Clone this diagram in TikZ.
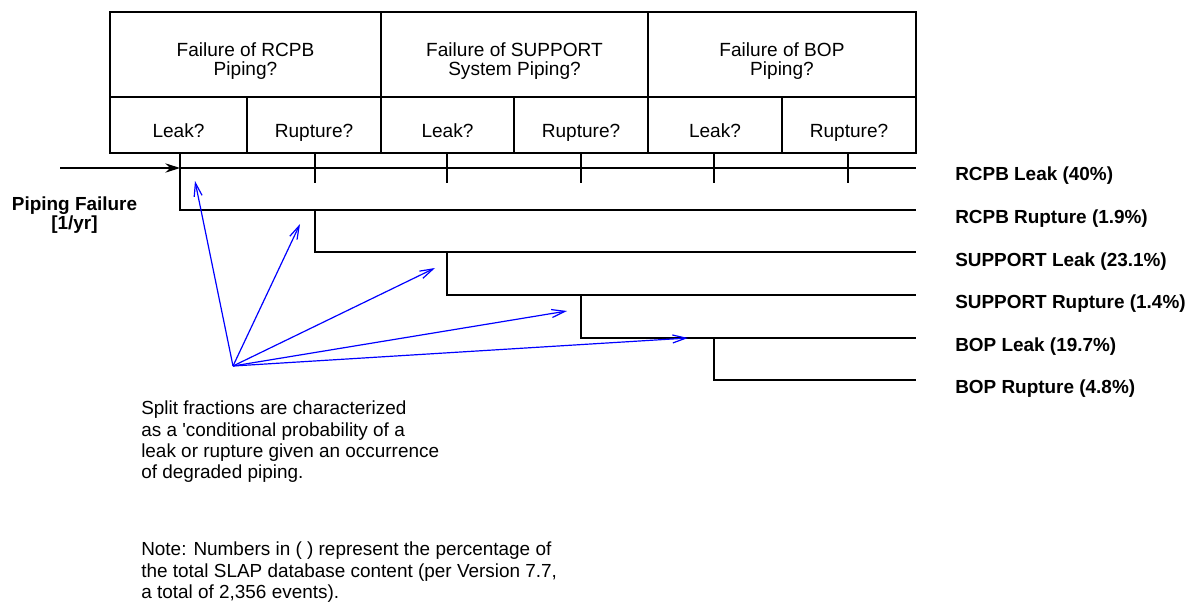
\documentclass[tikz,border=0pt]{standalone}
\usepackage{fontspec}
\setmainfont{Liberation Sans}
\usetikzlibrary{arrows.meta}

\begin{document}
\begin{tikzpicture}[x=0.75pt,y=-0.75pt,
  hd/.style={align=center,inner sep=0pt,font=\fontsize{14.3}{14.3}\selectfont},
  sub/.style={anchor=base,inner sep=0pt,font=\fontsize{14.3}{14.3}\selectfont},
  outlbl/.style={anchor=base west,inner sep=0pt,font=\fontsize{14.2}{16}\selectfont\bfseries},
  txt/.style={anchor=north west,align=left,inner sep=0pt,font=\fontsize{14.2}{16}\selectfont},
  blu/.style={draw,blue,line width=0.9pt,-{Straight Barb[length=10pt,width=6pt]}}]
\useasboundingbox (0,0) rectangle (1194,604);
% header boxes
\path[draw,line width=1.9pt] (110,12) rectangle (916,153);
\path[draw,line width=1.9pt] (110,97) -- (916,97);
\foreach \x in {381,648} \path[draw,line width=1.9pt] (\x,12) -- (\x,153);
\foreach \x in {247,514,782} \path[draw,line width=1.9pt] (\x,97) -- (\x,153);
\node[hd] (q1) at (245.5,61) {Failure of RCPB\\Piping?};
\node[hd] (q2) at (514.5,61) {Failure of SUPPORT\\System Piping?};
\node[hd] (q3) at (782,61) {Failure of BOP\\Piping?};
\node[sub] (l1) at (178.5,137) {Leak?};
\node[sub] (r1) at (314,137) {Rupture?};
\node[sub] (l2) at (447.5,137) {Leak?};
\node[sub] (r2) at (581,137) {Rupture?};
\node[sub] (l3) at (715,137) {Leak?};
\node[sub] (r3) at (849,137) {Rupture?};
% event tree
\foreach \x in {180,315,447,581,714,848} \path[draw,line width=0.9pt] (\x,153) -- (\x,183);
\coordinate (s0) at (60,168);
\coordinate (b1) at (180,168);
\coordinate (b2) at (315,210);
\coordinate (b3) at (447,252);
\coordinate (b4) at (581,295);
\coordinate (b5) at (714,338);
\coordinate (e1) at (916,168);
\coordinate (e2) at (916,210);
\coordinate (e3) at (916,252);
\coordinate (e4) at (916,295);
\coordinate (e5) at (916,338);
\coordinate (e6) at (916,380);
\path[draw,line width=0.9pt,-{Stealth[length=11pt,width=7pt]}] (s0) -- (b1);
\path[draw,line width=0.9pt] (b1) -- (e1);
\path[draw,line width=0.9pt] (b1) |- (e2);
\path[draw,line width=0.9pt] (b2) |- (e3);
\path[draw,line width=0.9pt] (b3) |- (e4);
\path[draw,line width=0.9pt] (b4) |- (e5);
\path[draw,line width=0.9pt] (b5) |- (e6);
\node[outlbl] (o1) at (955,180) {RCPB Leak (40\%)};
\node[outlbl] (o2) at (955,223) {RCPB Rupture (1.9\%)};
\node[outlbl] (o3) at (955,266) {SUPPORT Leak (23.1\%)};
\node[outlbl] (o4) at (955,308) {SUPPORT Rupture (1.4\%)};
\node[outlbl] (o5) at (955,351) {BOP Leak (19.7\%)};
\node[outlbl] (o6) at (955,393) {BOP Rupture (4.8\%)};
\node[align=center,inner sep=0pt,font=\fontsize{14.2}{14.5}\selectfont\bfseries] (pf) at (74.5,215) {Piping Failure\\{[1/yr]}};
% split fraction arrows
\coordinate (src) at (233,366);
\coordinate (t1) at (195,181);
\coordinate (t2) at (300,224);
\coordinate (t3) at (435,268);
\coordinate (t4) at (567,311);
\coordinate (t5) at (688,338);
\foreach \t in {t1,t2,t3,t4,t5} \path[blu] (src) -- (\t);
% notes
\node[txt] (split) at (141,401) {Split fractions are characterized\\as a \textquotesingle conditional probability of a\\leak or rupture given an occurrence\\of degraded piping.};
\node[txt] (note) at (141,542) {Note: Numbers in ( ) represent the percentage of\\the total SLAP database content (per Version 7.7,\\a total of 2,356 events).};
\end{tikzpicture}
\end{document}
